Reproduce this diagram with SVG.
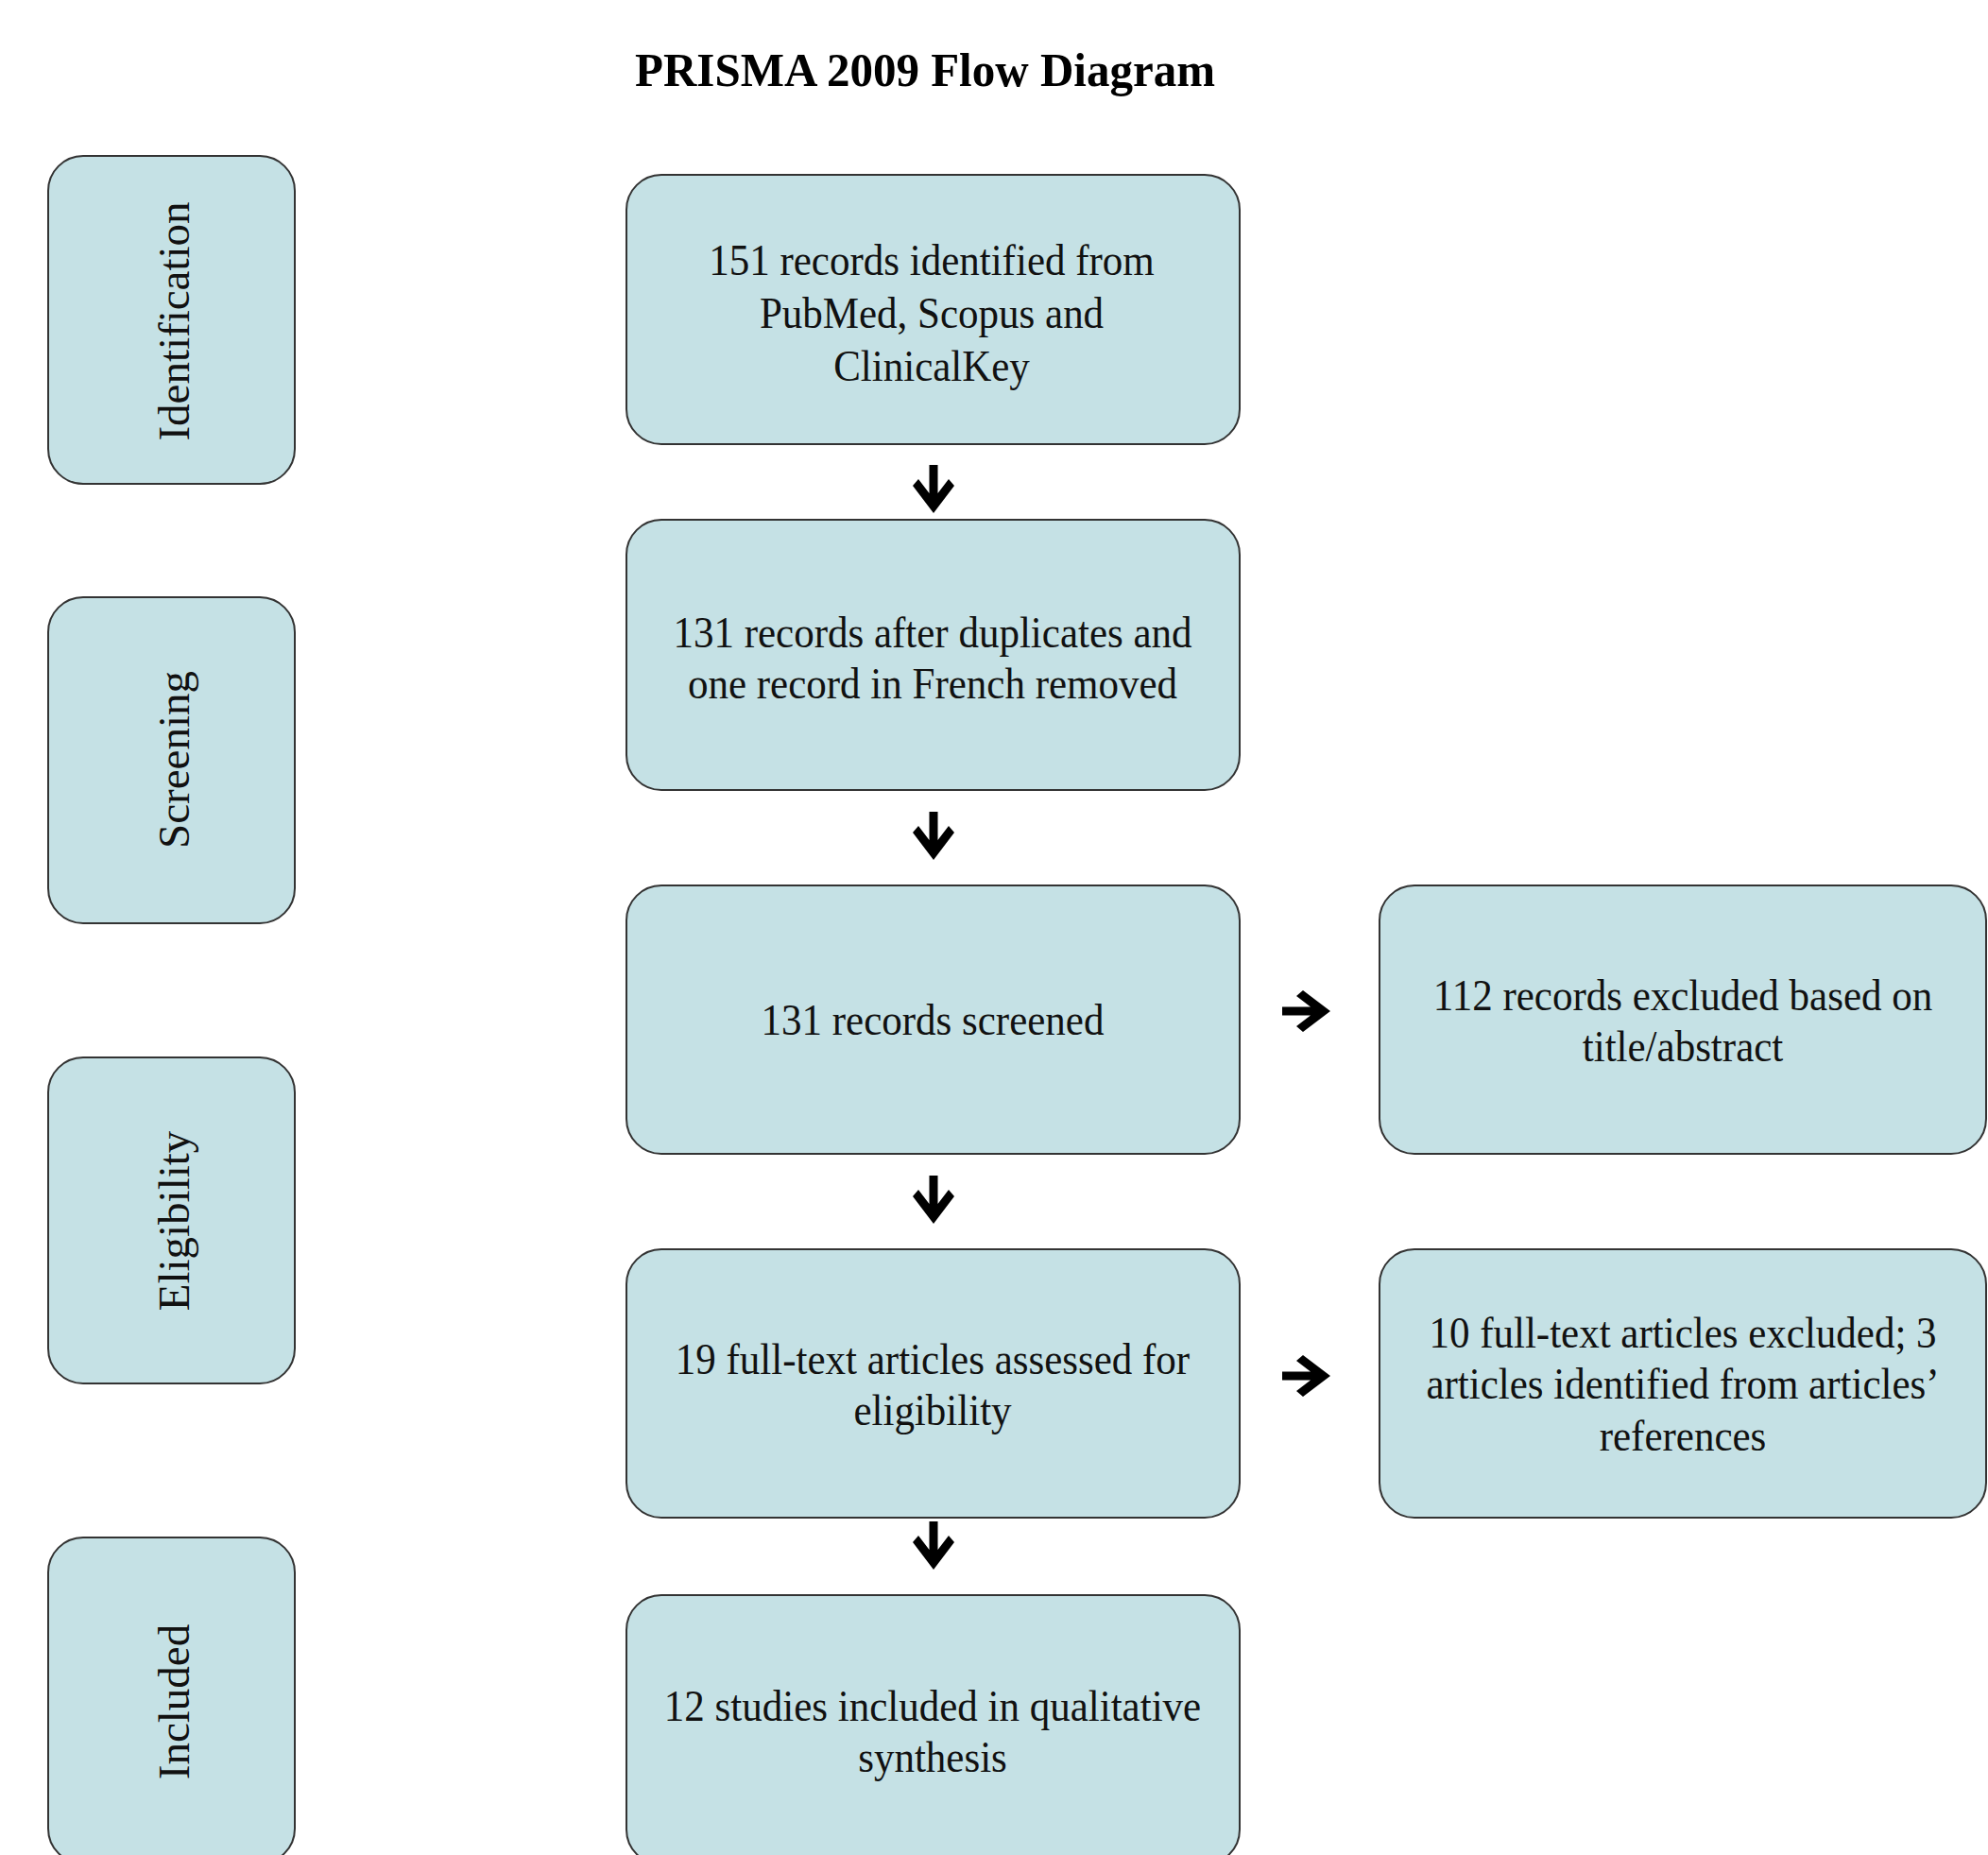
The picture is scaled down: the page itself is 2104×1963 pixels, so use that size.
<svg xmlns="http://www.w3.org/2000/svg" xmlns:xlink="http://www.w3.org/1999/xlink" width="2104" height="1963" viewBox="0 0 2104 1963">
<style>
.box{fill:#C5E1E5;stroke:#333;stroke-width:2}
.t{font-family:"Liberation Serif","Times New Roman",serif;font-size:47px;fill:#111;text-anchor:middle}
.title{font-family:"Liberation Serif","Times New Roman",serif;font-size:50px;font-weight:bold;fill:#000}
.arr{fill:#000}
</style>
<defs>
<path id="down" d="M0,0 L22,-29 L16,-36 L4.5,-21 L4.5,-51 L-4.5,-51 L-4.5,-21 L-16,-36 L-22,-29 Z"/>
</defs>
<rect width="2104" height="1963" fill="#fff"/>
<text class="title" x="672" y="91" textLength="614" lengthAdjust="spacingAndGlyphs">PRISMA 2009 Flow Diagram</text>

<g id="stage-identification">
<rect class="box" x="51" y="165" width="261" height="347" rx="37"/>
<text class="t" transform="translate(200,340) rotate(-90)">Identification</text>
</g>
<g id="stage-screening">
<rect class="box" x="51" y="632" width="261" height="345" rx="37"/>
<text class="t" transform="translate(200,804) rotate(-90)">Screening</text>
</g>
<g id="stage-eligibility">
<rect class="box" x="51" y="1119" width="261" height="345" rx="37"/>
<text class="t" transform="translate(200,1292) rotate(-90)">Eligibility</text>
</g>
<g id="stage-included">
<rect class="box" x="51" y="1627" width="261" height="345" rx="37"/>
<text class="t" transform="translate(200,1801) rotate(-90)">Included</text>
</g>

<g id="identified">
<rect class="box" x="663" y="185" width="649" height="285" rx="37"/>
<g transform="translate(986,0) scale(0.915,1)">
<text class="t" x="0" y="291">151 records identified from</text>
<text class="t" x="0" y="347">PubMed, Scopus and</text>
<text class="t" x="0" y="403">ClinicalKey</text>
</g>
</g>
<g id="deduplicated">
<rect class="box" x="663" y="550" width="649" height="286" rx="37"/>
<g transform="translate(987,0) scale(0.915,1)">
<text class="t" x="0" y="685">131 records after duplicates and</text>
<text class="t" x="0" y="739">one record in French removed</text>
</g>
</g>
<g id="screened">
<rect class="box" x="663" y="937" width="649" height="284" rx="37"/>
<g transform="translate(987,0) scale(0.915,1)">
<text class="t" x="0" y="1095">131 records screened</text>
</g>
</g>
<g id="excluded-title">
<rect class="box" x="1460" y="937" width="642" height="284" rx="37"/>
<g transform="translate(1781,0) scale(0.915,1)">
<text class="t" x="0" y="1069">112 records excluded based on</text>
<text class="t" x="0" y="1123">title/abstract</text>
</g>
</g>
<g id="assessed">
<rect class="box" x="663" y="1322" width="649" height="284" rx="37"/>
<g transform="translate(987,0) scale(0.915,1)">
<text class="t" x="0" y="1454">19 full-text articles assessed for</text>
<text class="t" x="0" y="1508">eligibility</text>
</g>
</g>
<g id="excluded-fulltext">
<rect class="box" x="1460" y="1322" width="642" height="284" rx="37"/>
<g transform="translate(1781,0) scale(0.915,1)">
<text class="t" x="0" y="1426">10 full-text articles excluded; 3</text>
<text class="t" x="0" y="1480">articles identified from articles’</text>
<text class="t" x="0" y="1535">references</text>
</g>
</g>
<g id="included">
<rect class="box" x="663" y="1688" width="649" height="285" rx="37"/>
<g transform="translate(987,0) scale(0.915,1)">
<text class="t" x="0" y="1821">12 studies included in qualitative</text>
<text class="t" x="0" y="1875">synthesis</text>
</g>
</g>

<g id="connectors" class="arr">
<use xlink:href="#down" href="#down" transform="translate(988,543)"/>
<use xlink:href="#down" href="#down" transform="translate(988,910)"/>
<use xlink:href="#down" href="#down" transform="translate(988,1295)"/>
<use xlink:href="#down" href="#down" transform="translate(988,1661)"/>
<use xlink:href="#down" href="#down" transform="translate(1408,1070) rotate(-90)"/>
<use xlink:href="#down" href="#down" transform="translate(1408,1456) rotate(-90)"/>
</g>
</svg>
